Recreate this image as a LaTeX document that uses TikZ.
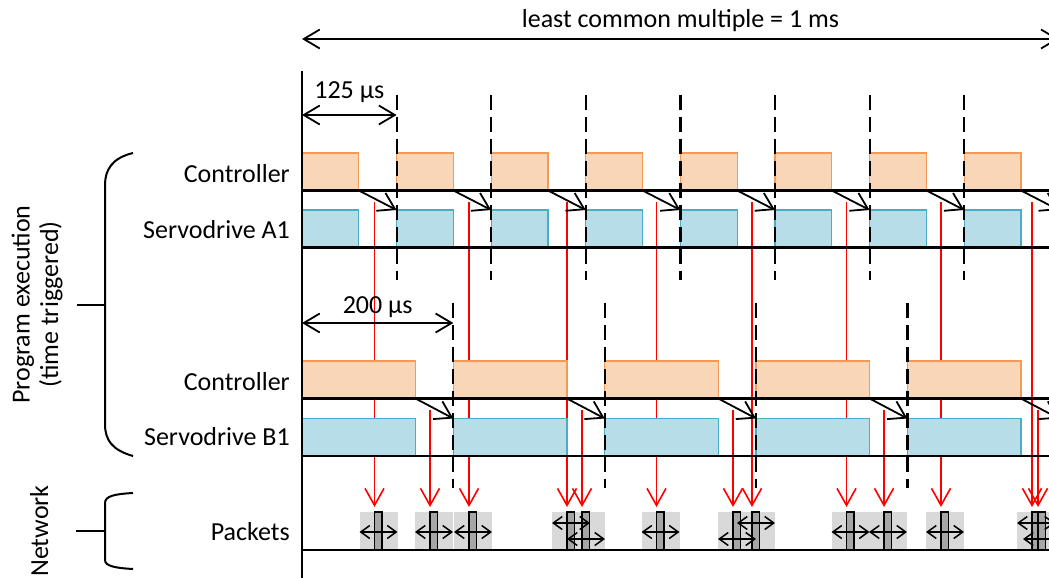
\documentclass[tikz,border=0pt]{standalone}
\usepackage{fontspec}
\setmainfont{Carlito}
\usepackage{xcolor}
\usetikzlibrary{arrows.meta}
\definecolor{ctrlfill}{HTML}{FAD6B8}
\definecolor{ctrlline}{HTML}{F59A55}
\definecolor{servofill}{HTML}{B7DDE8}
\definecolor{servoline}{HTML}{4BACC6}
\definecolor{pktfill}{HTML}{D9D9D9}
\definecolor{barfill}{HTML}{A6A6A6}
\def\pktsA{374.5/-1,469/-1,567/8,656.5/-1,752/8,846.5/-1,941/-1,1032/8}
\def\pktsB{430/-1,582/-8,733/-8,884/-1,1038/-8}

\begin{document}
\begin{tikzpicture}[x=1pt,y=-1pt,font=\fontsize{26}{29}\selectfont,
  ctrl/.style={draw=ctrlline,fill=ctrlfill,line width=1.3pt,minimum height=37.5pt,inner sep=0pt,outer sep=0pt,anchor=south west},
  servo/.style={ctrl,draw=servoline,fill=servofill},
  axisline/.style={line width=2.4pt},
  sync/.style={line width=2.2pt,dash pattern=on 15pt off 7pt},
  msg/.style={line width=1.8pt,-{Straight Barb[length=16pt,width=20pt]}},
  send/.style={red,line width=1.6pt,-{Straight Barb[length=17pt,width=19pt]}},
  span/.style={line width=1.8pt,{Straight Barb[length=16pt,width=19pt]}-{Straight Barb[length=16pt,width=19pt]}},
  pktspan/.style={line width=1.5pt,{Straight Barb[length=9pt,width=13pt]}-{Straight Barb[length=9pt,width=13pt]}},
  pkt/.style={fill=pktfill,minimum width=38pt,minimum height=38pt,inner sep=0pt,outer sep=0pt,anchor=south},
  pktbar/.style={draw,fill=barfill,line width=1.3pt,minimum width=7.5pt,minimum height=38pt,inner sep=0pt,outer sep=0pt,anchor=south west},
  lbl/.style={anchor=base east,inner sep=0pt},
  vlbl/.style={rotate=90,anchor=base,inner sep=0pt},
  brace/.style={line width=2pt}]
\clip (0,0) rectangle (1049,578);

\foreach \x/\s [count=\i] in \pktsA \node[pkt] (pa\i) at ({\x+4},550) {};
\foreach \x/\s [count=\i] in \pktsB \node[pkt] (pb\i) at ({\x+4},550) {};
\foreach \x/\s [count=\i] in \pktsA \node[pktbar] (ba\i) at (\x,550) {};
\foreach \x/\s [count=\i] in \pktsB \node[pktbar] (bb\i) at (\x,550) {};
\foreach \x/\s [count=\i] in \pktsA \draw[pktspan] ([yshift=\s pt]pa\i.west) -- ([yshift=\s pt]pa\i.east);
\foreach \x/\s [count=\i] in \pktsB \draw[pktspan] ([yshift=\s pt]pb\i.west) -- ([yshift=\s pt]pb\i.east);

\foreach \x/\s [count=\i] in \pktsA {
  \coordinate (ta\i) at (\x,202);
  \draw[send,shorten >=5pt] (ta\i) -- (ba\i.north west);
}
\foreach \x/\s [count=\i] in \pktsB {
  \coordinate (tb\i) at (\x,410);
  \draw[send,shorten >=5pt] (tb\i) -- (bb\i.north west);
}

\foreach \k in {0,...,8}{
  \node[ctrl,minimum width=56.8pt] (ca\k) at ({302+94.6*\k},190.5) {};
  \node[servo,minimum width=56.8pt] (sa\k) at ({302+94.6*\k},247.5) {};
}
\foreach \k in {0,...,5}{
  \node[ctrl,minimum width=113.5pt] (cb\k) at ({302+151.36*\k},398.5) {};
  \node[servo,minimum width=113.5pt] (sb\k) at ({302+151.36*\k},456) {};
}

\foreach \y in {190.5,247.5,398.5,456,550} \draw[axisline] (302,\y) -- (1060,\y);
\draw[line width=2pt] (302,71) -- (302,580);

\foreach \k in {1,...,8} \draw[sync] ({302+94.6*\k},95) -- ++(0,185);
\foreach \k in {1,...,5} \draw[sync] ({302+151.36*\k},303) -- ++(0,185);

\foreach \k [count=\n] in {0,...,7} \draw[msg] (ca\k.south east) -- (sa\n.north west);
\foreach \k [count=\n] in {0,...,4} \draw[msg] (cb\k.south east) -- (sb\n.north west);

\coordinate (lcmL) at (302,39);
\coordinate (lcmR) at (1058.8,39);
\coordinate (perAL) at (302,115);
\coordinate (perAR) at (396.6,115);
\coordinate (perBL) at (302,323);
\coordinate (perBR) at (453.4,323);
\draw[span] (lcmL) -- (lcmR);
\draw[span] (perAL) -- (perAR);
\draw[span] (perBL) -- (perBR);
\node[anchor=base,inner sep=0pt] (lcm) at (680.5,28) {least common multiple = 1 ms};
\node[anchor=base,inner sep=0pt] (perA) at (349.3,98) {125 µs};
\node[anchor=base,inner sep=0pt] (perB) at (377.7,313) {200 µs};

\node[lbl] (ctrlA) at (290,182) {Controller};
\node[lbl] (servoA) at (290,238.5) {Servodrive A1};
\node[lbl] (ctrlB) at (290,390) {Controller};
\node[lbl] (servoB) at (290,445) {Servodrive B1};
\node[lbl] (packets) at (290,540) {Packets};

\draw[brace] (133,153) .. controls (112,158) and (105,170) .. (105,185) -- (105,424) .. controls (105,440) and (112,450) .. (133,456);
\draw[brace] (77,304.5) -- (105,304.5);
\draw[brace] (133,493) .. controls (115,494) and (105,496) .. (105,503) -- (105,560) .. controls (105,566) and (115,568) .. (133,569);
\draw[brace] (76,531) -- (105,531);
\node[vlbl] (prog) at (29.5,304.5) {Program execution};
\node[vlbl] (trig) at (58,304.5) {(time triggered)};
\node[vlbl] (net) at (48,531) {Network};
\end{tikzpicture}
\end{document}
